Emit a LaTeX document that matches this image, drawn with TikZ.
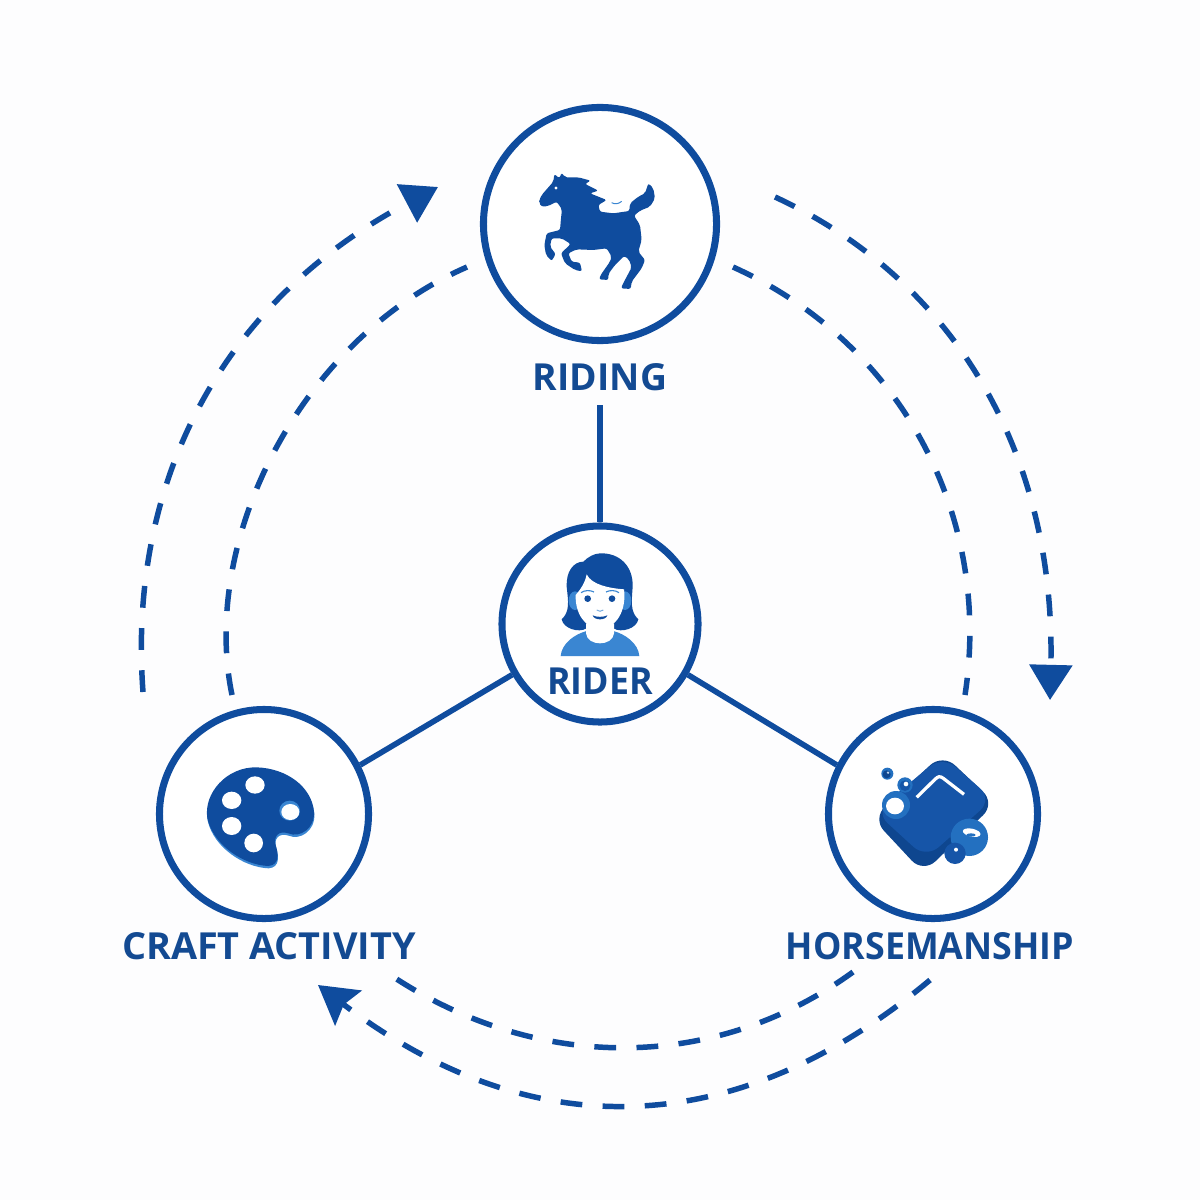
\documentclass[tikz,border=0pt]{standalone}
\usepackage{fontspec}
\setmainfont{Open Sans}
\usetikzlibrary{arrows.meta}
\definecolor{navy}{HTML}{0F4C9E}
\definecolor{txtblue}{HTML}{134A92}
\definecolor{midblue}{HTML}{3A86D2}
\definecolor{soapdark}{HTML}{0E468F}
\definecolor{soaptop}{HTML}{1655A8}
\definecolor{bubble}{HTML}{2370C0}
\definecolor{paper}{HTML}{FDFDFE}
\tikzset{
  ring/.style={circle,draw=navy,line width=5pt,fill=white,inner sep=0pt},
  lab/.style={font=\fontsize{26.5}{30}\selectfont\bfseries,text=txtblue,inner sep=0pt},
  spoke/.style={draw=navy,line width=4pt},
  flow/.style={draw=navy,line width=3.9pt,dash pattern=on 15.5pt off 14.5pt},
  headr/.style={-{Triangle[length=25pt,width=30pt]}},
  headn/.style={-{Stealth[length=27pt,width=31pt,inset=4pt]}},
  icon/.style={fill=navy,draw=none},
  zoomed/.style={shift={#1},scale=1/3}
}
\begin{document}
\begin{tikzpicture}[x=0.025cm,y=-0.025cm]
\useasboundingbox (0,0) rectangle (1200,1200);
\fill[paper] (0,0) rectangle (1200,1200);

% free ends of the flows
\coordinate (ro) at (775,197); \coordinate (rt) at (1050,700);
\coordinate (ri) at (733,267); \coordinate (re) at (965,695);
\coordinate (bo) at (930,980); \coordinate (bt) at (318,985);
\coordinate (bi) at (853,972); \coordinate (be) at (395,978);
\coordinate (lo) at (143,692); \coordinate (lt) at (438,187);
\coordinate (li) at (232,695); \coordinate (le) at (467,267);

% flows
\draw[flow,headr] (ro) .. controls (955,280) and (1056,455) .. (rt);
\draw[flow] (ri) .. controls (905,345) and (992,520) .. (re);
\draw[flow,headn] (bo) .. controls (735,1143) and (530,1146) .. (bt);
\draw[flow] (bi) .. controls (715,1072) and (540,1072) .. (be);
\draw[flow,headr] (lo) .. controls (128,490) and (215,305) .. (lt);
\draw[flow] (li) .. controls (200,540) and (300,340) .. (le);

% nodes
\node[ring,minimum size=5.825cm] (riding) at (600,224) {};
\node[ring,minimum size=4.9cm] (rider) at (600,624) {};
\node[ring,minimum size=5.225cm] (craft) at (264,814) {};
\node[ring,minimum size=5.225cm] (horse) at (933,814) {};

% labels
\node[lab] (ridinglab) at (600,377) {RIDING};
\node[lab] (riderlab) at (600,681) {\scalebox{0.96}[1]{RIDER}};
\node[lab] (craftlab) at (269,946) {\scalebox{1.014}[1]{CRAFT ACTIVITY}};
\node[lab] (horselab) at (930,946) {\scalebox{0.96}[1]{HORSEMANSHIP}};

% spokes
\draw[spoke] (rider.north) -- ([yshift=-10pt]ridinglab.south);
\draw[spoke] (rider.210) -- (craft.27);
\draw[spoke] (rider.330) -- (horse.153);

% horse icon
\begin{scope}[zoomed={(500,150)}]
\fill[icon,rounded corners=1.5pt] (118,150) -- (125,135) -- (160,95) -- (163,72) -- (178,85) -- (185,68) -- (195,82)
 -- (235,82) -- (272,92) -- (255,102) -- (295,122) -- (270,130) -- (320,150) -- (295,165) -- (300,185)
 -- (340,190) -- (388,183) -- (390,160) -- (415,140) -- (435,130) -- (445,100) -- (460,115) -- (465,145)
 -- (450,170) -- (420,182) -- (402,197) -- (420,225) -- (425,270) -- (415,305) -- (435,330) -- (425,355)
 -- (395,395) -- (392,417) -- (363,415) -- (368,403) -- (395,352) -- (387,328) -- (372,318) -- (345,345)
 -- (325,372) -- (325,390) -- (297,388) -- (302,375) -- (330,335) -- (335,320) -- (320,295) -- (280,300)
 -- (230,298) -- (205,310) -- (215,335) -- (240,338) -- (246,364) -- (225,360) -- (195,340) -- (183,310)
 -- (212,282) -- (185,265) -- (155,265) -- (150,290) -- (167,312) -- (155,333) -- (138,315) -- (133,285)
 -- (140,250) -- (180,240) -- (183,205) -- (186,178) -- (170,155) -- (145,168) -- (125,170) -- (117,158) -- cycle;
\fill[white] (168,114) circle (5);
\draw[midblue,line width=0.7pt] (335,158) .. controls (345,164) and (355,162) .. (365,154);
\end{scope}

% rider icon
\begin{scope}[zoomed={(520,530)}]
\fill[navy] (240,70) .. controls (300,68) and (340,110) .. (338,170) .. controls (335,215) and (330,245) .. (355,268)
  .. controls (350,295) and (305,310) .. (280,295) -- (200,295) .. controls (175,310) and (130,295) .. (125,268)
  .. controls (150,245) and (145,215) .. (140,170) .. controls (138,125) and (160,95) .. (190,95) .. controls (205,80) and (222,71) .. (240,70) -- cycle;
\fill[midblue] (165,212) ellipse (19 and 28);
\fill[midblue] (315,212) ellipse (19 and 28);
\fill[midblue] (122,378) .. controls (125,340) and (165,312) .. (200,303) -- (280,303) .. controls (315,312) and (355,340) .. (358,378) -- cycle;
\fill[white] (198,280) -- (282,280) -- (282,310) .. controls (278,350) and (202,350) .. (198,310) -- cycle;
\fill[white] (167,195) .. controls (180,180) and (195,160) .. (200,133) .. controls (215,165) and (270,175) .. (312,178)
  .. controls (320,240) and (290,295) .. (240,296) .. controls (195,295) and (165,250) .. (167,195) -- cycle;
\fill[navy] (203,206) circle (10);
\fill[navy] (276,206) circle (10);
\draw[midblue,line width=0.8pt] (183,188) .. controls (195,180) and (210,180) .. (222,186);
\draw[midblue,line width=0.8pt] (258,186) .. controls (270,180) and (285,180) .. (297,188);
\draw[midblue!70,line width=0.7pt] (230,240) .. controls (235,245) and (245,245) .. (250,240);
\fill[navy] (218,256) .. controls (230,262) and (250,262) .. (262,256) .. controls (258,272) and (222,272) .. (218,256) -- cycle;
\end{scope}

% palette icon
\begin{scope}[zoomed={(180,740)}]
\def\palette{(230,82) .. controls (320,85) and (395,140) .. (402,215) .. controls (405,265) and (360,295) .. (325,280)
  .. controls (295,270) and (280,290) .. (287,315) .. controls (295,340) and (300,375) .. (265,378)
  .. controls (190,375) and (100,315) .. (82,235) .. controls (70,160) and (140,80) .. (230,82) -- cycle}
\fill[midblue,shift={(1,7)}] \palette;
\fill[navy] \palette;
\fill[midblue] (329,212) ellipse (31 and 30);
\fill[white] (225,135) ellipse (29 and 26);
\fill[white] (155,181) ellipse (29 and 26);
\fill[white] (155,258) ellipse (29 and 27);
\fill[white] (221,309) ellipse (28 and 28);
\fill[white] (331,216) ellipse (27 and 24);
\end{scope}

% soap icon
\begin{scope}[zoomed={(860,740)}]
\fill[soapdark,rounded corners=12pt] (248,41) -- (406,190) -- (190,399) -- (37,235) -- cycle;
\fill[soaptop,rounded corners=12pt] (248,47) -- (398,178) -- (198,355) -- (45,215) -- cycle;
\draw[white,line width=2.3pt,line join=round] (170,172) -- (225,118) .. controls (235,108) and (240,108) .. (250,115) -- (312,163);
\fill[bubble] (82,101) circle (18);
\fill[soapdark] (80,103) circle (12);
\fill[white!70!bubble] (84,98) circle (4);
\fill[bubble] (135,135) circle (23);
\fill[soaptop] (135,137) circle (16);
\fill[white] (138,132) circle (7);
\fill[bubble] (108,195) circle (42);
\fill[white] (105,198) ellipse (27 and 25);
\fill[bubble] (328,292) circle (56);
\fill[white,rotate around={-12:(335,278)}] (335,278) ellipse (27 and 12);
\fill[bubble] (333,285) ellipse (14 and 5);
\fill[soaptop] (285,340) circle (32);
\fill[white] (288,329) circle (6);
\end{scope}
\end{tikzpicture}
\end{document}
